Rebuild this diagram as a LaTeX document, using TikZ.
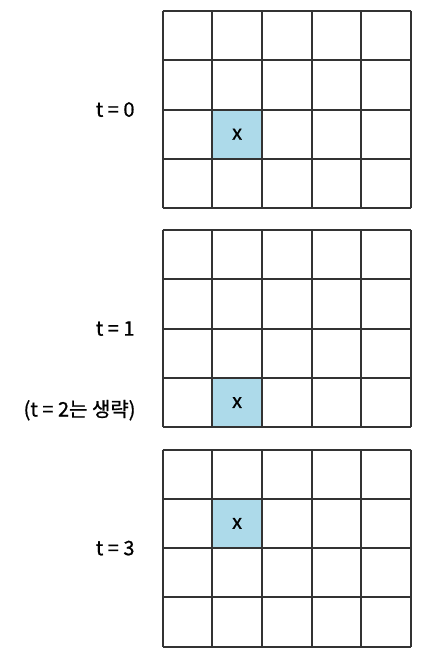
\documentclass[tikz,border=0pt]{standalone}
\usepackage{fontspec}
\setmainfont{Noto Sans CJK KR}[UprightFeatures={FakeBold=0.8}]
\usepackage{xcolor}
\usepackage{tikz}
\usetikzlibrary{positioning,calc}

\definecolor{cellblue}{HTML}{ADDAEA}
\definecolor{linegray}{HTML}{333333}

\begin{document}
\begin{tikzpicture}[x=1pt, y=-1pt, font=\fontsize{20}{24}\selectfont]
        \useasboundingbox (0,0) rectangle (420,658);

        % Parameters
        \def\cellW{49.6}      % Width of a cell
        \def\cellH{49.3}      % Height of a cell
        \def\boardLeft{162.7} % Left edge of every board

        \tikzset{
            board/.style={minimum width={5*\cellW*1pt}, minimum height={4*\cellH*1pt},
                          inner sep=0pt, outer sep=0pt, anchor=north west},
            step label/.style={inner sep=0pt, anchor=east},
        }

        % Function to draw one board
        \newcommand{\drawBoard}[4]{
            % #1: name, #2: top edge, #3: column of x, #4: row of x
            \node[board] (#1) at (\boardLeft,#2) {};
            % marked cell
            \fill[cellblue] ($(#1.north west)+({(#3-1)*\cellW},{(#4-1)*\cellH})$)
                rectangle ++(\cellW,\cellH);
            \node (#1x) at ($(#1.north west)+({(#3-0.5)*\cellW},{(#4-0.5)*\cellH})$) {x};
            % grid lines
            \foreach \i in {0,...,5} {
                \draw[linegray, line width=2pt]
                    ($(#1.north west)+({\i*\cellW},0)$) -- ++(0,{4*\cellH});
            }
            \foreach \j in {0,...,4} {
                \draw[linegray, line width=2pt]
                    ($(#1.north west)+(0,{\j*\cellH})$) -- ++({5*\cellW},0);
            }
        }

        % Draw the boards
        \drawBoard{board0}{11}{2}{3}
        \drawBoard{board1}{230}{2}{4}
        \drawBoard{board3}{449.5}{2}{2}

        % Step labels
        \node[step label, left=28pt of board0.west] (lbl0) {t = 0};
        \node[step label, left=28pt of board1.west] (lbl1) {t = 1};
        \node[step label, left=27pt of board1.south west, yshift=17pt] (lbl2) {(t = 2는 생략)};
        \node[step label, left=28pt of board3.west] (lbl3) {t = 3};

    \end{tikzpicture}
\end{document}
